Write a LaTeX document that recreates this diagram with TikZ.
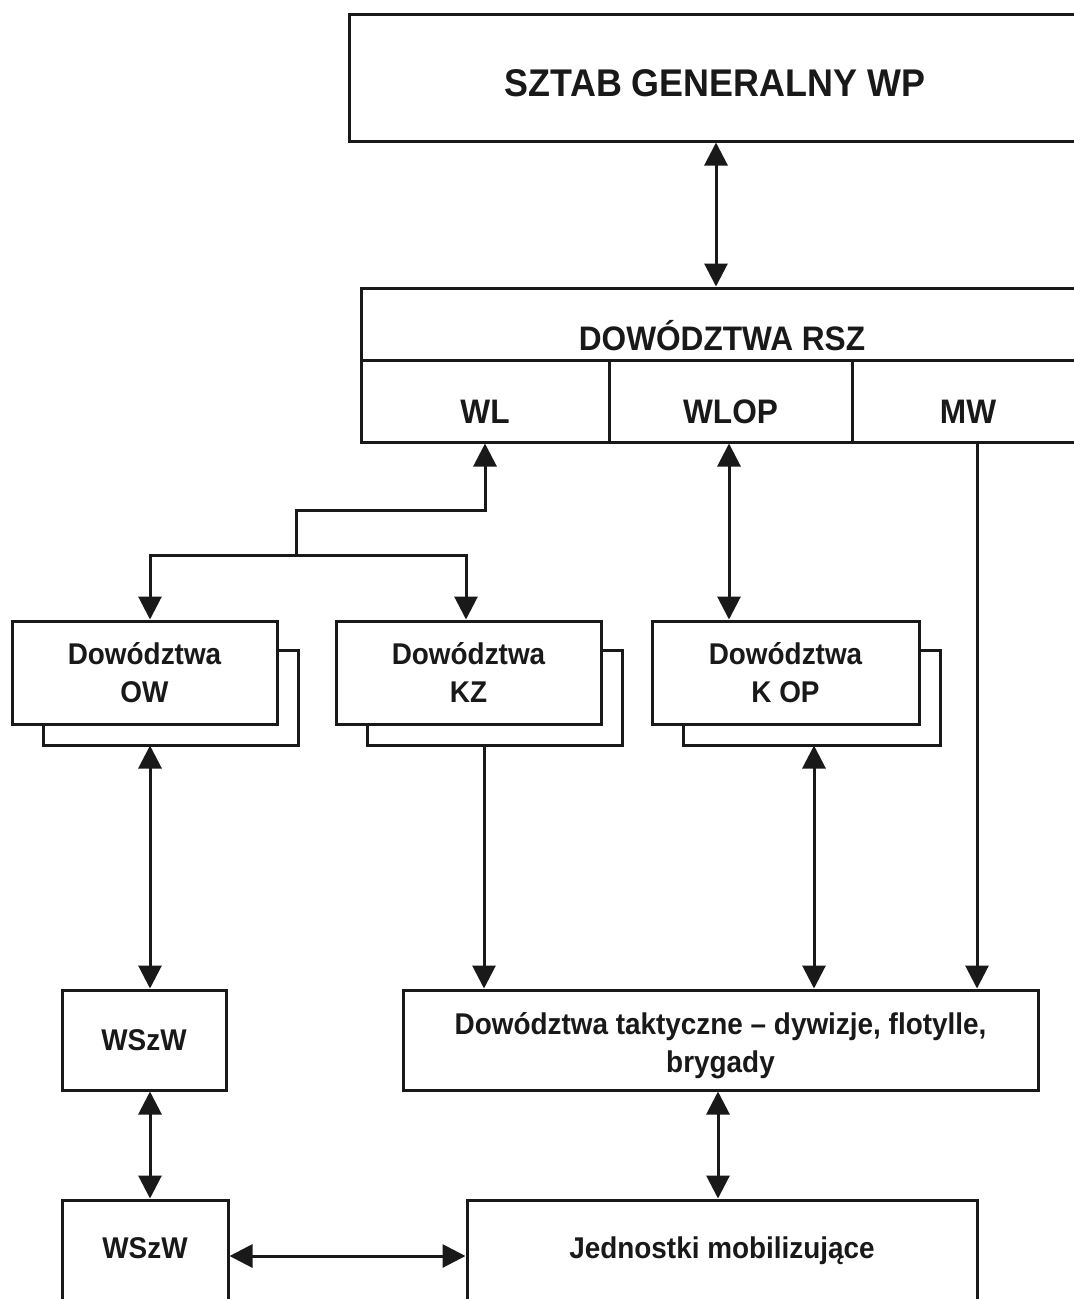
\documentclass[tikz,border=0pt]{standalone}
\usepackage{fontspec}
\newfontfamily\labfont{Liberation Sans}[FakeStretch=0.93]
\usetikzlibrary{arrows.meta}
\tikzset{
  box/.style={draw=black!90, line width=3pt, fill=white, inner sep=0pt, align=center,
    font=\labfont\bfseries\fontsize{30}{38}\selectfont, text=black!90},
  big/.style={font=\labfont\bfseries\fontsize{34}{40}\selectfont},
  huge/.style={font=\labfont\bfseries\fontsize{38.6}{44}\selectfont},
  conn/.style={draw=black!90, line width=3pt},
  tip/.tip={Triangle[length=23pt,width=23pt]},
  one/.style={conn, -tip},
  two/.style={conn, tip-tip},
  shd/.style={draw=black!90, line width=3pt, line join=miter}
}
\newcommand\stackshadow[1]{%
  \draw[shd] ([xshift=33pt]#1.south west) -- ++(0,20) coordinate (#1sb)
    -| ([xshift=20pt,yshift=-31pt]#1.north east) -- ++(-20,0);}
\begin{document}
\begin{tikzpicture}[x=1pt,y=-1pt]
\useasboundingbox (0,0) rectangle (1074,1299);
\clip (0,0) rectangle (1074,1299);
\fill[white] (0,0) rectangle (1074,1299);

% top
\node[box, huge, minimum width=732pt, minimum height=127pt, text height=38pt, text depth=0pt] (sztab) at (715,77.5) {SZTAB GENERALNY WP};

% RSZ
\node[box, big, minimum width=722pt, minimum height=72pt, text height=52pt, text depth=0pt] (rszh) at (722,324) {DOWÓDZTWA RSZ};
\node[box, big, minimum width=248pt, minimum height=82pt, text height=44pt, text depth=0pt] (wl) at (485,401) {WL};
\node[box, big, minimum width=243pt, minimum height=82pt, text height=44pt, text depth=0pt] (wlop) at (730.5,401) {WLOP};
\node[box, big, minimum width=232pt, minimum height=82pt, text height=44pt, text depth=0pt] (mw) at (968,401) {MW};

% second level
\node[box, minimum width=265pt, minimum height=103pt] (ow) at (144.5,672.5) {Dowództwa\\OW};
\node[box, minimum width=265pt, minimum height=103pt] (kz) at (468.5,672.5) {Dowództwa\\KZ};
\node[box, minimum width=267pt, minimum height=103pt] (kop) at (785.5,672.5) {Dowództwa\\K OP};
\stackshadow{ow}
\stackshadow{kz}
\stackshadow{kop}

% third level
\node[box, minimum width=164pt, minimum height=100pt] (wszw1) at (144,1040) {WSzW};
\node[box, minimum width=635pt, minimum height=100pt, text height=64pt, text depth=0pt] (tact) at (720.5,1040) {Dowództwa taktyczne – dywizje, flotylle,\\brygady};

% bottom
\node[box, minimum width=166pt, minimum height=112pt, text height=4pt, text depth=0pt] (wszw2) at (145,1256) {WSzW};
\node[box, minimum width=510pt, minimum height=112pt, text height=4pt, text depth=0pt] (jedn) at (722,1256) {Jednostki mobilizujące};

% helper x positions
\coordinate (xA) at (716,0);
\coordinate (xOW) at (150,0);
\coordinate (xKZ) at (466,0);
\coordinate (xKZb) at (484,0);
\coordinate (xWLOP) at (729,0);
\coordinate (xKOP) at (814,0);
\coordinate (xMW) at (977,0);
\coordinate (xT) at (718,0);
\coordinate (j1) at (296,555);
\coordinate (j2) at (296,510);

% connectors
\draw[two] (xA |- sztab.south) -- (xA |- rszh.north);
\draw[one] (j1) -- (j2) -| (wl.south);
\draw[two] (xOW |- ow.north) |- (xKZ |- j1) -- (xKZ |- kz.north);
\draw[two] (xWLOP |- wlop.south) -- (xWLOP |- kop.north);
\draw[one] (xMW |- mw.south) -- (xMW |- tact.north);
\draw[two] (xOW |- owsb) -- (xOW |- wszw1.north);
\draw[one] (xKZb |- kzsb) -- (xKZb |- tact.north);
\draw[two] (xKOP |- kopsb) -- (xKOP |- tact.north);
\draw[two] (xOW |- wszw1.south) -- (xOW |- wszw2.north);
\draw[two] (xT |- tact.south) -- (xT |- jedn.north);
\draw[two] (wszw2.east) -- (jedn.west);
\end{tikzpicture}
\end{document}
